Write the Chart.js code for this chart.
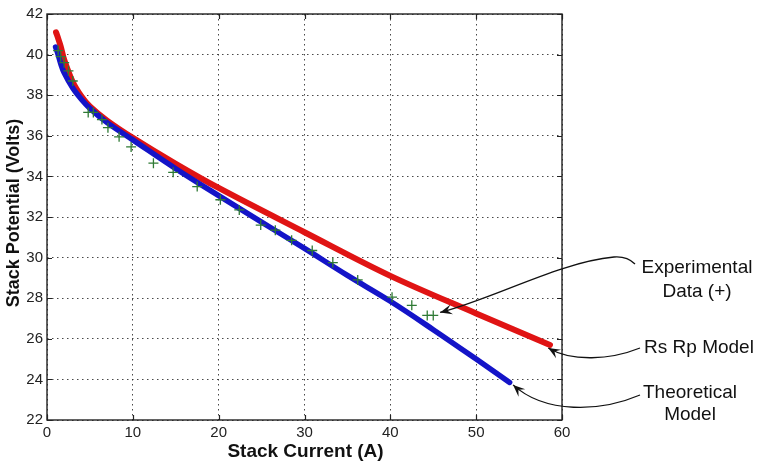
<!DOCTYPE html>
<html>
<head>
<meta charset="utf-8">
<script src="https://cdn.jsdelivr.net/npm/chart.js@4/dist/chart.umd.min.js"></script>
<style>
html,body{margin:0;padding:0;background:#fff;}
#wrap{width:760px;height:462px;}
</style>
</head>
<body>
<div id="wrap"><canvas id="c" width="760" height="462"></canvas></div>
<script>
// Stack current (A) and stack potential (V)
const theoX = [1.0, 1.3, 1.6, 2, 3, 4, 5, 7, 10, 15, 20, 25, 30, 35, 40, 45, 50, 53.9];
const theoY = [40.37, 40.0, 39.55, 39.1, 38.35, 37.8, 37.35, 36.65, 35.8, 34.38, 33.05, 31.75, 30.45, 29.12, 27.85, 26.45, 25.0, 23.85];

const rsrpX = [1.05, 1.3, 1.6, 2, 3, 4, 5, 7, 10, 15, 20, 30, 40, 50, 58.6];
const rsrpY = [41.1, 40.8, 40.4, 39.75, 38.65, 37.95, 37.45, 36.75, 35.9, 34.62, 33.43, 31.25, 29.1, 27.25, 25.7];

const expX = [1.3, 1.6, 2.0, 2.5, 3.0, 4.8, 5.4, 6.4, 7.1, 8.4, 9.8, 12.4, 14.7, 17.5, 20.2, 22.4, 24.9, 26.6, 28.5, 30.9, 33.3, 36.2, 40.2, 42.5, 44.3, 45.0];
const expY = [40.2, 39.9, 39.6, 39.2, 38.7, 37.15, 37.15, 36.8, 36.4, 35.95, 35.45, 34.65, 34.2, 33.5, 32.85, 32.35, 31.6, 31.35, 30.85, 30.35, 29.75, 28.9, 28.05, 27.65, 27.15, 27.15];

const xTicks = [0, 10, 20, 30, 40, 50, 60];
const yTicks = [22, 24, 26, 28, 30, 32, 34, 36, 38, 40, 42];

const xTitle = 'Stack Current (A)';
const yTitle = 'Stack Potential (Volts)';

// annotation labels, with the data point each arrow points at
const notes = [
  {lines: ['Experimental', 'Data (+)'], tip: [45.8, 27.3]},
  {lines: ['Rs Rp Model'], tip: [58.4, 25.55]},
  {lines: ['Theoretical', 'Model'], tip: [54.3, 23.73]}
];

const toPts = (xs, ys) => xs.map((x, i) => ({x: x, y: ys[i]}));
const FONT = '"Liberation Sans", Arial, Helvetica, sans-serif';

const decor = {
  id: 'decor',
  afterDraw(chart) {
    const ctx = chart.ctx;
    const a = chart.chartArea;
    const xs = chart.scales.x, ys = chart.scales.y;
    ctx.save();
    // frame
    ctx.strokeStyle = '#222';
    ctx.lineWidth = 1.4;
    ctx.strokeRect(a.left, a.top, a.right - a.left, a.bottom - a.top);
    // inward tick marks
    ctx.lineWidth = 1.2;
    ctx.beginPath();
    xTicks.forEach(v => {
      const p = Math.round(xs.getPixelForValue(v)) + 0.5;
      ctx.moveTo(p, a.bottom); ctx.lineTo(p, a.bottom - 5);
      ctx.moveTo(p, a.top); ctx.lineTo(p, a.top + 5);
    });
    yTicks.forEach(v => {
      const p = Math.round(ys.getPixelForValue(v)) + 0.5;
      ctx.moveTo(a.left, p); ctx.lineTo(a.left + 5, p);
      ctx.moveTo(a.right, p); ctx.lineTo(a.right - 5, p);
    });
    ctx.stroke();

    // axis titles
    ctx.fillStyle = '#111';
    ctx.font = 'bold 19px ' + FONT;
    ctx.textAlign = 'center';
    ctx.textBaseline = 'middle';
    ctx.fillText(xTitle, (a.left + a.right) / 2 + 1, 452);
    ctx.save();
    ctx.translate(14, 213);
    ctx.rotate(-Math.PI / 2);
    ctx.font = 'bold 18px ' + FONT;
    ctx.fillText(yTitle, 0, 0);
    ctx.restore();

    // annotation texts
    ctx.font = '19px ' + FONT;
    ctx.fillStyle = '#111';
    const textPos = [[697, 268, 24], [699, 348, 0], [690, 393, 22]];
    notes.forEach((n, i) => {
      const tp = textPos[i];
      n.lines.forEach((l, j) => ctx.fillText(l, tp[0], tp[1] + j * tp[2]));
    });

    // arrows
    const curves = [
      {start: [635, 264], pre: [627, 256, 614, 257], c1: [560, 262], c2: [495, 298]},
      {start: [640, 348], pre: null, c1: [610, 360], c2: [572, 362]},
      {start: [640, 395], pre: null, c1: [600, 412], c2: [545, 414]}
    ];
    ctx.strokeStyle = '#111';
    ctx.fillStyle = '#111';
    ctx.lineWidth = 1.3;
    notes.forEach((n, i) => {
      const cv = curves[i];
      const tx = xs.getPixelForValue(n.tip[0]);
      const ty = ys.getPixelForValue(n.tip[1]);
      ctx.beginPath();
      ctx.moveTo(cv.start[0], cv.start[1]);
      if (cv.pre) ctx.quadraticCurveTo(cv.pre[0], cv.pre[1], cv.pre[2], cv.pre[3]);
      ctx.bezierCurveTo(cv.c1[0], cv.c1[1], cv.c2[0], cv.c2[1], tx, ty);
      ctx.stroke();
      const ang = Math.atan2(ty - cv.c2[1], tx - cv.c2[0]);
      const L = 12, W = 5;
      const bx = tx - L * Math.cos(ang), by = ty - L * Math.sin(ang);
      ctx.beginPath();
      ctx.moveTo(tx, ty);
      ctx.lineTo(bx + W * Math.sin(ang), by - W * Math.cos(ang));
      ctx.lineTo(tx - 0.6 * L * Math.cos(ang), ty - 0.6 * L * Math.sin(ang));
      ctx.lineTo(bx - W * Math.sin(ang), by + W * Math.cos(ang));
      ctx.closePath();
      ctx.fill();
    });
    ctx.restore();
  }
};

new Chart(document.getElementById('c'), {
  type: 'scatter',
  data: {
    datasets: [
      {
        label: 'Experimental Data',
        data: toPts(expX, expY),
        showLine: false,
        pointStyle: 'cross',
        pointRadius: 5,
        borderColor: '#2f7a35',
        backgroundColor: '#2f7a35',
        borderWidth: 1.3
      },
      {
        label: 'Theoretical Model',
        data: toPts(theoX, theoY),
        showLine: true,
        borderColor: '#1414c8',
        borderWidth: 5.5,
        pointRadius: 0,
        tension: 0.35,
        borderCapStyle: 'round'
      },
      {
        label: 'Rs Rp Model',
        data: toPts(rsrpX, rsrpY),
        showLine: true,
        borderColor: '#e01414',
        borderWidth: 6,
        pointRadius: 0,
        tension: 0.35,
        borderCapStyle: 'round'
      }
    ]
  },
  options: {
    responsive: false,
    animation: false,
    devicePixelRatio: 1,
    layout: {padding: {left: 0, right: 198, top: 14, bottom: 0}},
    plugins: {legend: {display: false}, tooltip: {enabled: false}},
    scales: {
      x: {
        type: 'linear', min: 0, max: 60,
        afterFit: s => { s.height = 42; },
        afterBuildTicks: s => { s.ticks = xTicks.map(v => ({value: v})); },
        ticks: {color: '#222', font: {family: FONT, size: 15}, padding: 4, maxRotation: 0},
        grid: {color: 'rgba(40,40,40,0.85)', lineWidth: 1, drawTicks: false},
        border: {display: false, dash: [1.5, 3.5]}
      },
      y: {
        type: 'linear', min: 22, max: 42,
        afterFit: s => { s.width = 47; },
        afterBuildTicks: s => { s.ticks = yTicks.map(v => ({value: v})); },
        ticks: {color: '#222', font: {family: FONT, size: 15}, padding: 4},
        grid: {color: 'rgba(40,40,40,0.85)', lineWidth: 1, drawTicks: false},
        border: {display: false, dash: [1.5, 3.5]}
      }
    }
  },
  plugins: [decor]
});
</script>
</body>
</html>
